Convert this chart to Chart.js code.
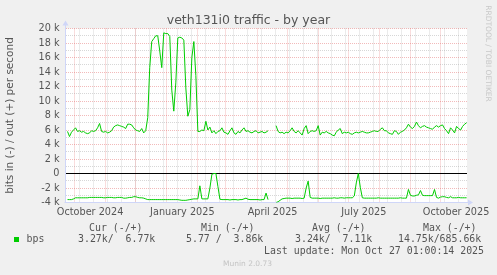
<!DOCTYPE html>
<html>
<head>
<meta charset="utf-8">
<title>veth131i0 traffic - by year</title>
<script src="https://cdn.jsdelivr.net/npm/chart.js@4/dist/chart.umd.min.js"></script>
<style>
  html, body { margin: 0; padding: 0; background: #f0f0f0; }
  canvas { display: block; }
</style>
</head>
<body>
<canvas id="chart" width="497" height="275"></canvas>
<script>
// ============================================
// veth131i0 traffic - by year (munin style)
// ============================================

// sample days, counted from 1 Oct 2024
const days = [
  -7, -5, -3, -1, 1, 3, 5, 7, 9, 11,
  13, 15, 17, 19, 21, 23, 25, 27, 29, 31,
  33, 35, 37, 39, 41, 43, 45, 47, 49, 51,
  53, 55, 57, 59, 61, 63, 65, 67, 69, 71,
  73, 75, 77, 79, 81, 83, 85, 87, 89, 91,
  93, 95, 97, 99, 101, 103, 105, 107, 109, 111,
  113, 115, 117, 119, 121, 123, 125, 127, 129, 131,
  133, 135, 137, 139, 141, 143, 145, 147, 149, 151,
  153, 155, 157, 159, 161, 163, 165, 167, 169, 171,
  173, 175, 177, 179, 181, 183, 185, 187, 189, 191,
  193, 195, 197, 199, 201, 203, 205, 207, 209, 211,
  213, 215, 217, 219, 221, 223, 225, 227, 229, 231,
  233, 235, 237, 239, 241, 243, 245, 247, 249, 251,
  253, 255, 257, 259, 261, 263, 265, 267, 269, 271,
  273, 275, 277, 279, 281, 283, 285, 287, 289, 291,
  293, 295, 297, 299, 301, 303, 305, 307, 309, 311,
  313, 315, 317, 319, 321, 323, 325, 327, 329, 331,
  333, 335, 337, 339, 341, 343, 345, 347, 349, 351,
  353, 355, 357, 359, 361, 363, 365, 367, 369, 371,
  373, 375, 377, 379, 381, 383, 385, 387, 389, 391
];

// out (+), kbit/s
const outK = [
  5.8, 5.1, 5.7, 6.0, 6.3, 5.8, 5.9, 5.7, 5.8, 5.6,
  5.5, 5.6, 5.9, 5.8, 5.9, 6.3, 6.9, 5.8, 5.7, 5.8,
  5.6, 5.7, 5.9, 6.4, 6.6, 6.7, 6.6, 6.5, 6.4, 6.2,
  6.8, 6.8, 6.7, 6.3, 6.0, 5.9, 5.8, 6.2, 5.6, 5.9,
  7.7, 14.6, 18.2, 18.6, 19.0, 19.0, 16.9, 14.6, 19.4, 19.3,
  19.3, 18.9, 11.5, 8.6, 12.5, 18.7, 18.8, 18.7, 18.4, 11.8,
  7.9, 8.8, 16.0, 18.2, 13.5, 5.8, 5.8, 6.0, 5.9, 7.2,
  6.0, 6.4, 5.6, 5.9, 5.5, 5.8, 5.9, 6.3, 5.7, 5.6,
  5.4, 5.9, 6.3, 5.6, 5.4, 5.8, 5.6, 6.0, 6.3, 5.8,
  5.9, 5.7, 5.6, 5.8, 5.9, 5.6, 5.7, 5.8, 5.6, 5.7,
  5.9, null, null, null, 6.6, 5.8, 5.6, 5.7, 5.5, 5.7,
  5.6, 5.9, 6.3, 5.8, 5.6, 5.9, 5.6, 5.3, 6.2, 6.6,
  5.5, 5.8, 5.9, 5.8, 5.9, 6.6, 5.3, 5.7, 5.6, 5.8,
  5.6, 5.5, 5.3, 5.2, 5.7, 6.0, 6.2, 5.5, 5.7, 5.6,
  5.7, 5.5, 5.4, 5.6, 5.7, 5.6, 5.7, 5.8, 5.7, 5.6,
  5.6, 5.7, 5.8, 5.9, 5.8, 5.8, 6.1, 6.3, 5.9, 5.9,
  5.6, 5.5, 5.4, 5.9, 5.8, 5.4, 5.7, 5.8, 6.0, 6.3,
  6.8, 6.4, 6.2, 6.5, 7.1, 6.6, 6.3, 6.5, 6.6, 6.4,
  6.3, 6.2, 6.1, 6.4, 6.6, 6.4, 6.6, 6.7, 6.2, 5.9,
  5.5, 6.3, 6.0, 5.6, 6.5, 6.2, 6.0, 6.5, 6.8, 7.0
];

// in (-), kbit/s, drawn below zero
const inK = [
  -3.6, -3.6, -3.6, -3.5, -3.35, -3.35, -3.35, -3.35, -3.35, -3.35,
  -3.35, -3.3, -3.3, -3.3, -3.3, -3.3, -3.3, -3.3, -3.35, -3.35,
  -3.3, -3.3, -3.3, -3.35, -3.35, -3.3, -3.3, -3.3, -3.4, -3.4,
  -3.35, -3.3, -3.3, -3.2, -3.2, -3.3, -3.35, -3.35, -3.4, -3.5,
  -3.6, -3.6, -3.6, -3.6, -3.6, -3.6, -3.6, -3.6, -3.6, -3.6,
  -3.6, -3.6, -3.6, -3.6, -3.6, -3.6, -3.65, -3.7, -3.7, -3.7,
  -3.65, -3.6, -3.55, -3.5, -3.5, -3.5, -1.7, -3.5, -3.5, -3.5,
  -3.5, -2.0, -0.1, 0, 0, -1.8, -3.55, -3.6, -3.6, -3.6,
  -3.6, -3.65, -3.6, -3.6, -3.6, -3.65, -3.6, -3.6, -3.5, -3.4,
  -3.55, -3.6, -3.6, -3.6, -3.6, -3.6, -3.65, -3.6, -3.6, -2.7,
  -3.6, null, null, null, -4.0, -3.9, -3.7, -3.5, -3.45, -3.4,
  -3.4, -3.4, -3.45, -3.4, -3.4, -3.4, -3.4, -3.45, -3.4, -2.0,
  -1.05, -3.3, -3.4, -3.4, -3.4, -3.4, -3.45, -3.4, -3.4, -3.4,
  -3.4, -3.4, -3.4, -3.35, -3.4, -3.4, -3.35, -3.35, -3.4, -3.35,
  -3.35, -3.35, -3.35, -3.1, -1.3, 0, -1.9, -3.35, -3.4, -3.4,
  -3.4, -3.4, -3.4, -3.4, -3.4, -3.35, -3.4, -3.4, -3.4, -3.4,
  -3.4, -3.4, -3.4, -3.4, -3.4, -3.4, -3.35, -3.4, -3.4, -3.4,
  -2.2, -3.0, -3.1, -3.1, -3.0, -2.95, -2.35, -3.0, -3.05, -3.05,
  -3.05, -3.05, -3.05, -2.2, -3.3, -3.4, -3.25, -3.2, -3.2, -3.3,
  -3.35, -3.2, -3.35, -3.35, -3.35, -3.3, -3.35, -3.35, -3.35, -3.35
];

// axis ticks (k), labels on the even ones
const yTicks = [-4, -3, -2, -1, 0, 1, 2, 3, 4, 5, 6, 7, 8, 9, 10, 11, 12, 13, 14, 15, 16, 17, 18, 19, 20];

// month starts (red grid), two-week grid (grey), quarter labels
const monthStarts = [0, 31, 61, 92, 123, 151, 182, 212, 243, 273, 304, 335, 365];
const minorDays = [4.5, 18.5, 32.5, 46.5, 60.5, 74.5, 88.5, 102.5, 116.5, 130.5, 144.5, 158.5, 172.5, 186.5,
  200.5, 214.5, 228.5, 242.5, 256.5, 270.5, 284.5, 298.5, 312.5, 326.5, 340.5, 354.5, 368.5, 382.5];
const xLabelDays = [15.5, 107.5, 197.5, 288.5, 380.5];
const xLabelText = ['October 2024', 'January 2025', 'April 2025', 'July 2025', 'October 2025'];

// legend
const legendHead = ['Cur (-/+)', 'Min (-/+)', 'Avg (-/+)', 'Max (-/+)'];
const legendVals = ['3.27k/  6.77k', '5.77 /  3.86k', '3.24k/  7.11k', '14.75k/685.66k'];
const lastUpdate = 'Last update: Mon Oct 27 01:00:14 2025';

const GREEN = '#00cc00';
const TEXT = '#555555';
const AXIS = '#cfd6f8';
const MGRID = 'rgba(225, 90, 90, 0.42)';
const GRID = 'rgba(150, 150, 150, 0.38)';

const sans = 'DejaVu Sans';
const mono = 'DejaVu Sans Mono';

// background, zero line, axes with arrows, legend and watermark text
const muninDecor = {
  id: 'muninDecor',
  beforeDraw(chart) {
    const { ctx, chartArea: a } = chart;
    ctx.save();
    ctx.fillStyle = '#f0f0f0';
    ctx.fillRect(0, 0, chart.width, chart.height);
    ctx.fillStyle = '#ffffff';
    ctx.fillRect(a.left, a.top, a.right - a.left, a.bottom - a.top);
    ctx.restore();
  },
  beforeDatasetsDraw(chart) {
    const { ctx, chartArea: a, scales } = chart;
    const y0 = Math.floor(scales.y.getPixelForValue(0)) + 0.5;
    ctx.save();
    ctx.lineWidth = 1;
    ctx.setLineDash([]);
    ctx.strokeStyle = '#000000';
    ctx.beginPath();
    ctx.moveTo(a.left, y0);
    ctx.lineTo(a.right, y0);
    ctx.stroke();

    // axes
    const ax = a.left - 0.5;
    const ay = Math.floor(a.bottom) + 0.5;
    ctx.strokeStyle = AXIS;
    ctx.fillStyle = AXIS;
    ctx.beginPath();
    ctx.moveTo(ax, ay);
    ctx.lineTo(ax, a.top - 4);
    ctx.moveTo(ax - 1, ay);
    ctx.lineTo(a.right + 2, ay);
    ctx.stroke();
    ctx.beginPath();
    ctx.moveTo(ax - 3, a.top - 3);
    ctx.lineTo(ax + 3, a.top - 3);
    ctx.lineTo(ax, a.top - 8);
    ctx.closePath();
    ctx.fill();
    ctx.beginPath();
    ctx.moveTo(a.right + 1, ay - 3);
    ctx.lineTo(a.right + 1, ay + 3);
    ctx.lineTo(a.right + 6, ay);
    ctx.closePath();
    ctx.fill();
    ctx.restore();
  },
  afterDraw(chart) {
    const { ctx } = chart;
    ctx.save();
    ctx.fillStyle = TEXT;
    ctx.textBaseline = 'alphabetic';
    ctx.textAlign = 'center';
    ctx.font = `12.5px "${sans}"`;
    ctx.fillText('veth131i0 traffic - by year', 248.5, 24);

    // legend table
    ctx.font = `9.9px "${mono}"`;
    ctx.textBaseline = 'middle';
    ctx.textAlign = 'left';
    const headX = [89, 201, 312, 423];
    legendHead.forEach((t, i) => ctx.fillText(t, headX[i], 228));
    ctx.fillStyle = GREEN;
    ctx.fillRect(14, 237, 5, 5);
    ctx.fillStyle = TEXT;
    ctx.fillText('bps', 26.5, 239.5);
    const valX = [78, 186, 295, 398];
    legendVals.forEach((t, i) => ctx.fillText(t, valX[i], 239.5));
    ctx.textAlign = 'right';
    ctx.fillText(lastUpdate, 484, 251.5);

    ctx.textAlign = 'center';
    ctx.fillStyle = '#c4c4c4';
    ctx.font = `7.5px "${sans}"`;
    ctx.fillText('Munin 2.0.73', 247.5, 264.5);

    ctx.fillStyle = '#c8c8c8';
    ctx.translate(487.5, 53.5);
    ctx.rotate(Math.PI / 2);
    ctx.fillText('RRDTOOL / TOBI OETIKER', 0, 0);
    ctx.restore();
  }
};

const xTicks = [
  ...minorDays.map(v => ({ value: v, kind: 'minor' })),
  ...monthStarts.map(v => ({ value: v, kind: 'major' })),
  ...xLabelDays.map((v, i) => ({ value: v, kind: 'label', text: xLabelText[i] }))
];

new Chart(document.getElementById('chart'), {
  type: 'line',
  data: {
    datasets: [
      {
        label: 'in',
        data: days.map((d, i) => ({ x: d, y: inK[i] })),
        borderColor: GREEN,
        borderWidth: 1,
        pointRadius: 0,
        tension: 0,
        spanGaps: false
      },
      {
        label: 'out',
        data: days.map((d, i) => ({ x: d, y: outK[i] })),
        borderColor: GREEN,
        borderWidth: 1,
        pointRadius: 0,
        tension: 0,
        spanGaps: false
      }
    ]
  },
  options: {
    responsive: false,
    animation: false,
    devicePixelRatio: 1,
    layout: { padding: { left: 0, right: 30, top: 28.5, bottom: 52.5 } },
    plugins: {
      legend: { display: false },
      tooltip: { enabled: false },
      title: { display: false }
    },
    scales: {
      x: {
        type: 'linear',
        min: -8.5,
        max: 391.4,
        afterBuildTicks: (scale) => { scale.ticks = xTicks.map(t => ({ ...t })); },
        afterFit: (scale) => { scale.height = 20; },
        grid: {
          drawTicks: false,
          lineWidth: 1,
          color: (ctx) => {
            const k = ctx.tick && ctx.tick.kind;
            if (k === 'major') return MGRID;
            if (k === 'minor') return GRID;
            return 'rgba(0,0,0,0)';
          }
        },
        border: { display: false, dash: [1, 1] },
        ticks: {
          autoSkip: false,
          maxRotation: 0,
          padding: 4,
          color: TEXT,
          font: { family: sans, size: 9.7 },
          callback: function (value, index, ticks) {
            return ticks[index].kind === 'label' ? ticks[index].text : '';
          }
        }
      },
      y: {
        min: -4,
        max: 20,
        afterBuildTicks: (scale) => { scale.ticks = yTicks.map(v => ({ value: v })); },
        afterFit: (scale) => { scale.width = 66; },
        grid: {
          drawTicks: false,
          lineWidth: 1,
          color: (ctx) => {
            const v = ctx.tick ? ctx.tick.value : null;
            if (v === 0) return 'rgba(0,0,0,0)';
            return v % 2 === 0 ? MGRID : GRID;
          }
        },
        border: { display: false, dash: [1, 1] },
        title: {
          display: true,
          text: 'bits in (-) / out (+) per second',
          color: TEXT,
          font: { family: sans, size: 10.5 },
          padding: { top: 4.3, bottom: 0 }
        },
        ticks: {
          autoSkip: false,
          padding: 6.5,
          color: TEXT,
          font: { family: sans, size: 9.7 },
          callback: (v) => (v % 2 === 0 ? (v === 0 ? '0' : v + ' k') : '')
        }
      }
    }
  },
  plugins: [muninDecor]
});
</script>
</body>
</html>
